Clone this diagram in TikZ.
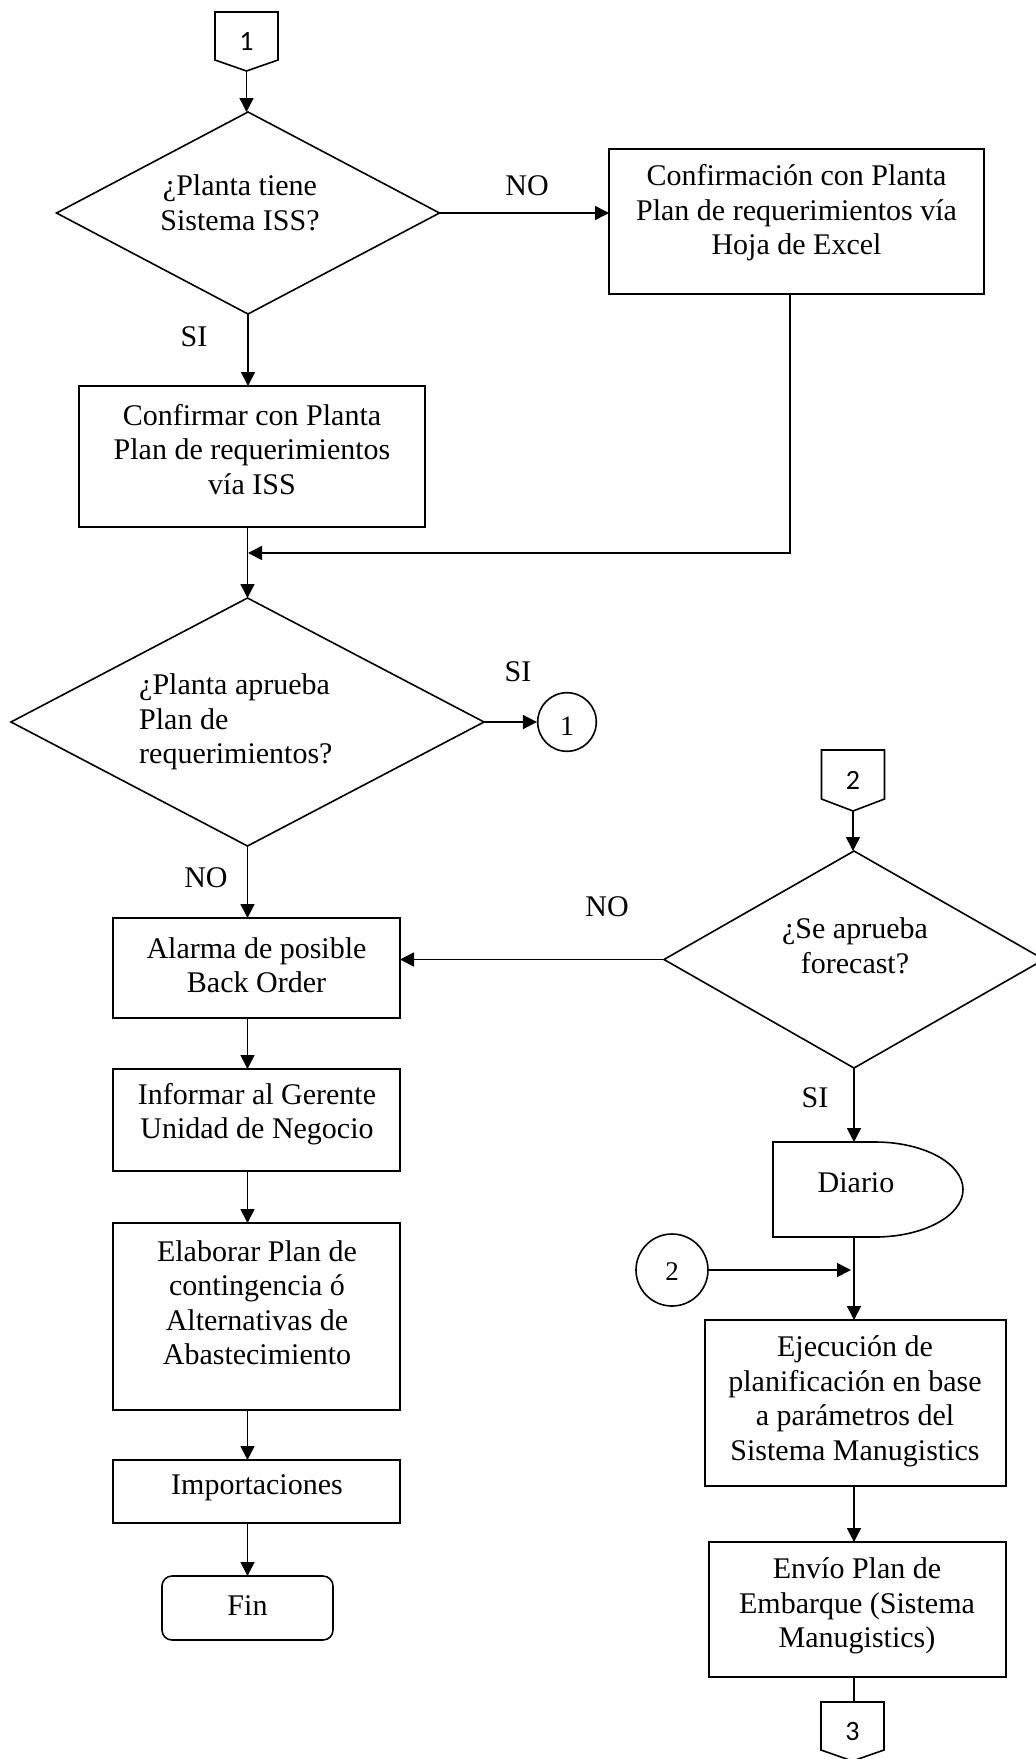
\documentclass[tikz,border=0pt]{standalone}
\usepackage{fontspec}
\setmainfont{Liberation Serif}
\newfontfamily\connfont{Carlito}
\usetikzlibrary{arrows.meta,shapes.geometric}
\begin{document}
\begin{tikzpicture}[x=1pt,y=-1pt,
  lw/.style={line width=1.6pt},
  arr/.style={lw,-{Triangle[length=14pt,width=14pt]}},
  boxn/.style={draw,lw,rectangle,inner sep=0pt,outer sep=0pt},
  dian/.style={draw,lw,diamond,inner sep=0pt,outer sep=0pt},
  ghost/.style={rectangle,inner sep=0pt,outer sep=0pt},
  txt/.style={inner sep=0pt,align=center,font=\fontsize{30}{34.5}\selectfont},
  lbl/.style={inner sep=0pt,font=\fontsize{30}{34.5}\selectfont},
  digit/.style={inner sep=0pt,font=\connfont\fontsize{28}{30}\selectfont},
]
\path[use as bounding box] (0,0) rectangle (1036,1759);
\clip (0,0) rectangle (1036,1759);

% ---------- off-page connector 1 ----------
\node[ghost,minimum width=63pt,minimum height=59pt] (c1) at (246.5,41.5) {};
\draw[lw] (c1.north west) -- (c1.north east) -- ([yshift=11pt]c1.south east) -- (c1.south) -- ([yshift=11pt]c1.south west) -- cycle;
\node[digit] (c1t) at (246.5,41) {1};

% ---------- decision A ----------
\node[dian,minimum width=383pt,minimum height=202pt] (dA) at (248,213) {};
\node[txt] (dAt) at (240,203) {¿Planta tiene\\Sistema ISS?};
\node[lbl] (lNO1) at (527,186) {NO};
\node[lbl] (lSI1) at (194,337) {SI};

% ---------- box B ----------
\node[boxn,minimum width=375pt,minimum height=145pt] (bB) at (796.5,221.5) {};
\node[txt] (bBt) at (796.5,213) {Confirmación con Planta\\Plan de requerimientos vía\\Hoja de Excel};

% ---------- box C ----------
\node[boxn,minimum width=346pt,minimum height=141pt] (bC) at (252,456.5) {};
\node[txt] (bCt) at (252,449.5) {Confirmar con Planta\\Plan de requerimientos\\vía ISS};

\coordinate (mg) at (248,553);

% ---------- decision D ----------
\node[dian,minimum width=473pt,minimum height=248pt] (dD) at (247.5,722) {};
\node[txt,align=left,anchor=west] (dDt) at (139,722) {¿Planta aprueba\\Plan de\\requerimientos?};
\node[lbl] (lSI2) at (518,672) {SI};
\node[draw,lw,circle,minimum size=58.6pt,inner sep=0pt] (k1) at (567,722) {};
\node[inner sep=0pt,font=\fontsize{28}{30}\selectfont] (k1t) at (567,726) {1};
\node[lbl] (lNO2) at (206,878) {NO};

% ---------- left column ----------
\node[boxn,minimum width=287pt,minimum height=100pt] (bAl) at (256.5,968) {};
\node[txt] (bAlt) at (256.5,965) {Alarma de posible\\Back Order};
\node[boxn,minimum width=287pt,minimum height=102pt] (bIn) at (256.5,1120) {};
\node[txt] (bInt) at (257,1114) {Informar al Gerente\\Unidad de Negocio};
\node[boxn,minimum width=287pt,minimum height=187pt] (bEl) at (256.5,1316.5) {};
\node[txt] (bElt) at (257,1302.5) {Elaborar Plan de\\contingencia ó\\Alternativas de\\Abastecimiento};
\node[boxn,minimum width=287pt,minimum height=63pt] (bIm) at (256.5,1491.5) {};
\node[txt] (bImt) at (257,1488) {Importaciones};
\node[boxn,rounded corners=10pt,minimum width=171pt,minimum height=64pt] (fin) at (247.5,1608) {};
\node[txt] (fint) at (247.5,1606) {Fin};

% ---------- right column ----------
\node[ghost,minimum width=63pt,minimum height=61pt] (c2) at (853,780.5) {};
\draw[lw] (c2.north west) -- (c2.north east) -- ([yshift=12pt]c2.south east) -- (c2.south) -- ([yshift=12pt]c2.south west) -- cycle;
\node[digit] (c2t) at (853,780) {2};

\node[dian,minimum width=380pt,minimum height=217pt] (dE) at (854,959.5) {};
\node[txt] (dEt) at (855,946) {¿Se aprueba\\forecast?};
\node[lbl] (lNO3) at (607,907) {NO};
\node[lbl] (lSI3) at (815,1098) {SI};

\node[ghost,minimum width=190pt,minimum height=95pt] (di) at (868,1189.5) {};
\draw[lw] (di.north west) -- ++(102,0) arc[start angle=90,end angle=-90,x radius=88pt,y radius=47.5pt] -- (di.south west) -- cycle;
\node[txt] (dit) at (856,1183) {Diario};

\node[draw,lw,circle,minimum size=72pt,inner sep=0pt] (k2) at (672,1270) {};
\node[inner sep=0pt,font=\fontsize{27}{30}\selectfont] (k2t) at (672,1272) {2};

\node[boxn,minimum width=301pt,minimum height=166pt] (bEj) at (855.5,1403) {};
\node[txt] (bEjt) at (855,1401.5) {Ejecución de\\planificación en base\\a parámetros del\\Sistema Manugistics};
\node[boxn,minimum width=297pt,minimum height=135pt] (bEn) at (857.5,1609.5) {};
\node[txt] (bEnt) at (857,1606) {Envío Plan de\\Embarque (Sistema\\Manugistics)};

\node[ghost,minimum width=63pt,minimum height=59pt] (c3) at (852.5,1731.5) {};
\draw[lw] (c3.north west) -- (c3.north east) -- ([yshift=11pt]c3.south east) -- (c3.south) -- ([yshift=11pt]c3.south west) -- cycle;
\node[digit] (c3t) at (852.5,1731) {3};

% ---------- connectors ----------
\draw[arr] (c1.south) -- (c1.south |- dA.north);
\draw[arr] (dA.east) -- (dA.east -| bB.west);
\draw[arr] (dA.south) -- (dA.south |- bC.north);
\draw[arr] ([xshift=-6.5pt]bB.south) |- (mg);
\draw[arr] (bC.south -| dD.north) -- (dD.north);
\draw[arr] (dD.east) -- (k1.west);
\draw[arr] (dD.south) -- (dD.south |- bAl.north);
\draw[arr] (bAl.south -| dD.south) -- (dD.south |- bIn.north);
\draw[arr] (bIn.south -| dD.south) -- (dD.south |- bEl.north);
\draw[arr] (bEl.south -| dD.south) -- (dD.south |- bIm.north);
\draw[arr] (bIm.south -| dD.south) -- (dD.south |- fin.north);

\draw[arr] (c2.south) -- (c2.south |- dE.north);
\draw[arr] (dE.west) -- (dE.west -| bAl.east);
\draw[arr] (dE.south) -- (dE.south |- di.north);
\draw[arr] (dE.south |- di.south) -- (dE.south |- bEj.north);
\coordinate (jn) at ([xshift=-3pt]dE.south |- k2.east);
\draw[arr] (k2.east) -- (jn);
\draw[arr] (bEj.south -| dE.south) -- (dE.south |- bEn.north);
\draw[lw] (bEn.south -| dE.south) -- (dE.south |- c3.north);
\end{tikzpicture}
\end{document}
